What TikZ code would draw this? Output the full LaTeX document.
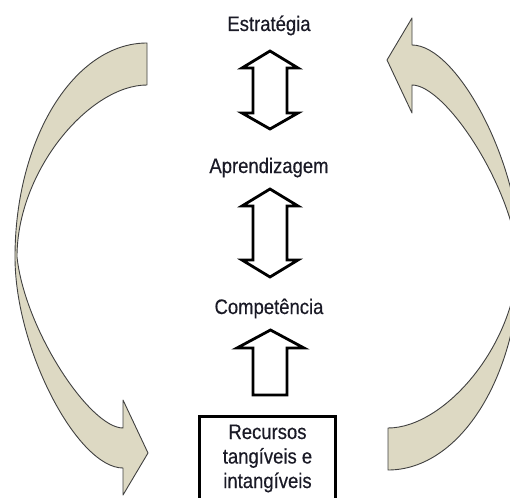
\documentclass[tikz,border=0pt]{standalone}
\usepackage{fontspec}
\setmainfont[FakeStretch=0.88,FakeBold=0.4]{Liberation Sans}
\definecolor{khaki}{HTML}{DDD9C3}
\definecolor{ink}{HTML}{1A1A26}
\begin{document}
\begin{tikzpicture}[x=1pt,y=-1pt,
  curved/.style={fill=khaki, draw=black!75, line width=0.9pt, line join=round},
  blockarrow/.style={fill=white, draw=black, line width=2.8pt, line join=miter},
  lbl/.style={font=\fontsize{21}{24.5}\selectfont, text=ink, anchor=base, inner sep=0pt},
  boxstyle/.style={draw=black, line width=3pt, minimum width=136pt, minimum height=120pt, anchor=north, inner sep=0pt}]
\useasboundingbox (0,0) rectangle (510,497);
\clip (0,0) rectangle (510,497);

% curved arrows
\draw[curved] (147,43) .. controls (74,43) and (15,139) .. (15,257)
  .. controls (15,350) and (78,468) .. (123,468) -- (123,495) -- (148,453)
  -- (123,400) -- (123,428) .. controls (90,428) and (25,330) .. (17,257)
  .. controls (17,170) and (90,85) .. (147,85) -- cycle;
\begin{scope}[rotate around={180:(267.5,256.5)}]
\draw[curved] (147,43) .. controls (74,43) and (15,139) .. (15,257)
  .. controls (15,350) and (78,468) .. (123,468) -- (123,495) -- (148,453)
  -- (123,400) -- (123,428) .. controls (90,428) and (25,330) .. (17,257)
  .. controls (17,170) and (90,85) .. (147,85) -- cycle;
\end{scope}

% labels
\node[lbl] (est) at (269,31) {Estratégia};
\node[lbl] (apr) at (269,173) {Aprendizagem};
\node[lbl] (comp) at (269,314) {Competência};

% block arrows
\draw[blockarrow] (270,51) -- (298,68) -- (287,68) -- (287,113) -- (298,113)
  -- (270,129) -- (242,113) -- (253,113) -- (253,68) -- (242,68) -- cycle;
\draw[blockarrow] (270,189) -- (298,206) -- (287,206) -- (287,260) -- (298,260)
  -- (270,277) -- (242,260) -- (253,260) -- (253,206) -- (242,206) -- cycle;
\draw[blockarrow] (270.5,330) -- (304,348) -- (287,348) -- (287,395) -- (253,395)
  -- (253,348) -- (237,348) -- cycle;

% box
\node[boxstyle] (box) at (267.5,414.5) {};
\node[lbl] (r1) at (267.5,439) {Recursos};
\node[lbl] (r2) at (267.5,463.5) {tangíveis e};
\node[lbl] (r3) at (267.5,488) {intangíveis};
\end{tikzpicture}
\end{document}
